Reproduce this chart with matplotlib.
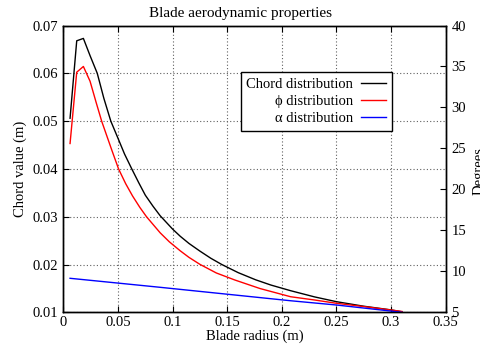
import matplotlib
matplotlib.use('Agg')
import matplotlib.pyplot as plt

# datos
radio_cuerda = [0.0061, 0.0122, 0.0183, 0.0244, 0.031, 0.037, 0.0434, 0.05, 0.056, 0.0626, 0.069, 0.075,
                0.082, 0.0886, 0.1, 0.107, 0.115, 0.125, 0.135, 0.145, 0.16, 0.176, 0.19, 0.208,
                0.23, 0.25, 0.275, 0.3, 0.31]
cuerda = [0.0506, 0.0668, 0.0673, 0.0637, 0.060, 0.0548, 0.050, 0.0464, 0.0431, 0.040, 0.0371, 0.0345,
          0.0322, 0.0302, 0.0274, 0.0259, 0.0244, 0.0228, 0.0213, 0.020, 0.0183, 0.0168, 0.0157, 0.01452,
          0.01322, 0.01222, 0.01127, 0.0105, 0.0101]

radio_phi = [0.0061, 0.0122, 0.0183, 0.0244, 0.03, 0.0351, 0.0443, 0.0505, 0.057, 0.0633, 0.07, 0.0761,
             0.0886, 0.097, 0.107, 0.115, 0.125, 0.14, 0.157, 0.18, 0.208, 0.23, 0.25, 0.275, 0.3, 0.31]
phi = [25.6, 34.3, 35.0, 33.2, 30.6, 28.3, 24.8, 22.5, 20.7, 19.2, 17.8, 16.66,
       14.7, 13.6, 12.5, 11.7, 10.85, 9.8, 8.94, 7.9, 6.9, 6.5, 6.1, 5.7, 5.28, 5.1]

radio_alfa = [0.0061, 0.0886, 0.208, 0.25, 0.31]
alfa = [9.15, 8.05, 6.41, 5.89, 5.0]

xticks = [0, 0.05, 0.1, 0.15, 0.2, 0.25, 0.3, 0.35]
xtick_labels = ['0', '0.05', '0.1', '0.15', '0.2', '0.25', '0.3', '0.35']
yticks = [0.01, 0.02, 0.03, 0.04, 0.05, 0.06, 0.07]
y2ticks = [5, 10, 15, 20, 25, 30, 35, 40]

plt.rcParams['font.family'] = ['Liberation Serif', 'DejaVu Serif']
plt.rcParams['font.size'] = 10.5

fig = plt.figure(figsize=(4.81, 3.47), dpi=100)
ax = fig.add_axes([0.1318, 0.1, 0.7948, 0.8265])
ax2 = ax.twinx()

l1, = ax.plot(radio_cuerda, cuerda, color='black', lw=1)
l2, = ax2.plot(radio_phi, phi, color='red', lw=1)
l3, = ax2.plot(radio_alfa, alfa, color='blue', lw=1)

ax.set_xlim(0, 0.35)
ax.set_ylim(0.01, 0.07)
ax2.set_ylim(5, 40)
ax.set_xticks(xticks)
ax.set_xticklabels(xtick_labels)
ax.set_yticks(yticks)
ax.set_yticklabels(['%.2f' % v for v in yticks])
ax2.set_yticks(y2ticks)

ax.grid(True, linestyle=(0, (1, 2)), color='#606060', lw=0.8)
ax.tick_params(direction='in', length=4, width=0.8, top=True, right=False, pad=4)
ax.tick_params(axis='x', pad=3)
ax2.tick_params(direction='in', length=4, width=0.8, pad=4)
for a in (ax, ax2):
    for s in a.spines.values():
        s.set_linewidth(1)

ax.set_xlabel('Blade radius (m)', labelpad=0)
ax.set_ylabel('Chord value (m)', labelpad=4)
fig.text(0.5, 0.9496, 'Blade aerodynamic properties', ha='center', va='baseline', fontsize=11)
fig.text(0.982, 0.507, 'Degrees', rotation=90, ha='left', va='center')

leg = ax2.legend([l1, l2, l3], ['Chord distribution', 'ϕ distribution', 'α distribution'],
                 loc='upper right', bbox_to_anchor=(0.8595, 0.838), markerfirst=False,
                 handlelength=1.75, handletextpad=0.5, labelspacing=0.25, borderpad=0.4,
                 borderaxespad=0, fancybox=False, framealpha=1, edgecolor='black')
leg.get_frame().set_linewidth(1)

fig.savefig('out.png', dpi=100)
